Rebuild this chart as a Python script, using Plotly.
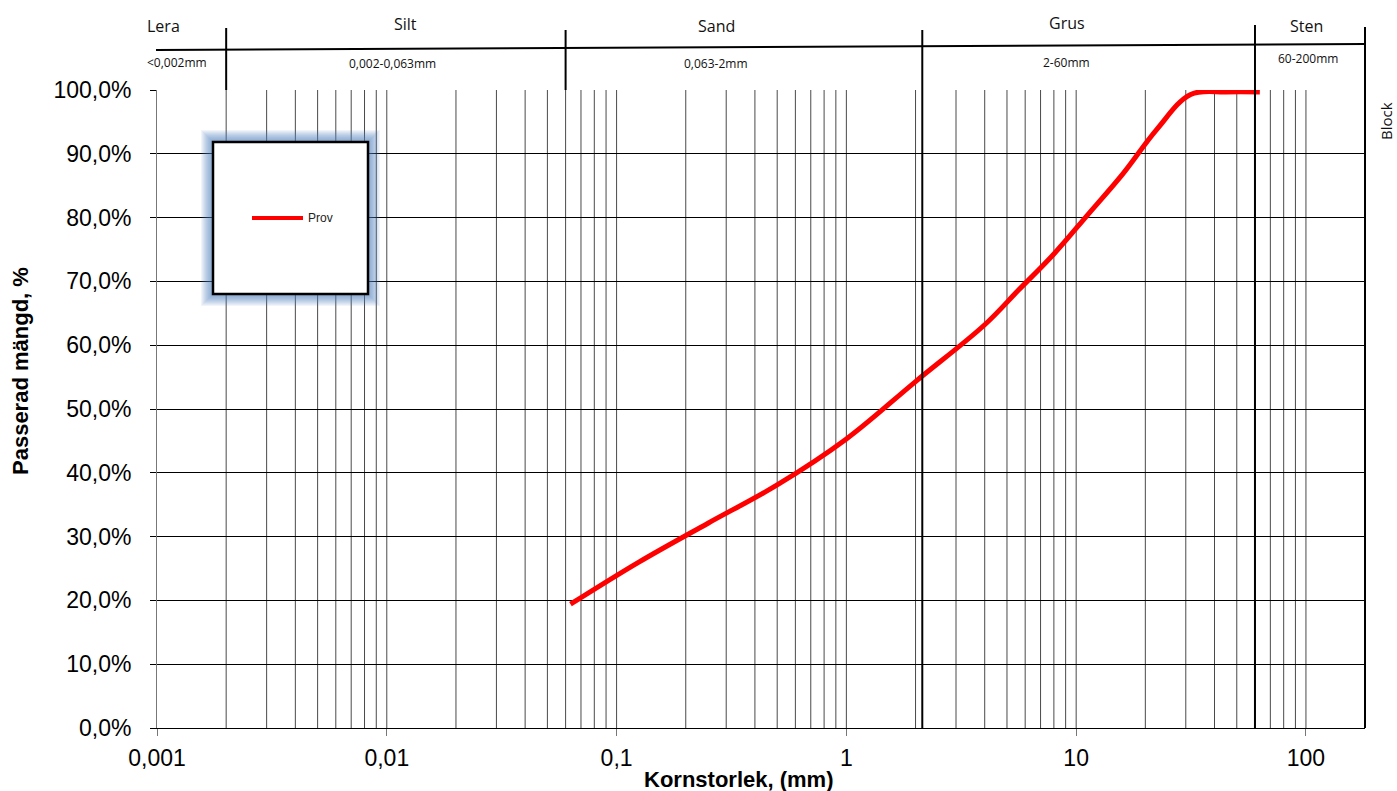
import math
import plotly.graph_objects as go

# Sieve analysis: grain size (mm) and cumulative passing (%)
sieve_mm = [0.063, 0.125, 0.25, 0.5, 1, 2, 4, 5.6, 8, 11.2, 16, 22.4, 31.5, 45, 63]
passing_pct = [19.4, 26.0, 32.1, 38.1, 45.3, 54.3, 63.2, 68.6, 74.3, 80.4, 86.9, 93.8, 99.3, 99.7, 99.7]
series_name = "Prov"

# Axis ticks
y_tick_vals = [0, 10, 20, 30, 40, 50, 60, 70, 80, 90, 100]
y_tick_text = ["0,0%", "10,0%", "20,0%", "30,0%", "40,0%", "50,0%",
               "60,0%", "70,0%", "80,0%", "90,0%", "100,0%"]
x_tick_vals = [0.001, 0.01, 0.1, 1, 10, 100]
x_tick_text = ["0,001", "0,01", "0,1", "1", "10", "100"]

# Soil fraction header
fraction_names = ["Lera", "Silt", "Sand", "Grus", "Sten"]
fraction_ranges = ["<0,002mm", "0,002-0,063mm", "0,063-2mm", "2-60mm", "60-200mm"]
fraction_bounds = [0.002, 0.06, 2.14, 60]

# ---- layout geometry (pixels) ----
W, H = 1397, 791
L, R, T, B = 157, 1365, 90, 728
X_LOG_MIN, X_LOG_MAX = -3.0, 2.257


def px_x(px):
    return (px - L) / (R - L)


def px_y(py):
    return (B - py) / (B - T)


fig = go.Figure()
fig.add_trace(go.Scatter(
    x=sieve_mm, y=passing_pct, name=series_name, mode="lines",
    line=dict(color="#ff0000", width=5, shape="spline", smoothing=1.0),
    showlegend=False, hoverinfo="x+y",
))

shapes = []

# vertical log grid (1..9 per decade)
for d in range(-3, 3):
    for m in range(1, 10):
        v = m * 10 ** d
        lv = math.log10(v)
        if lv <= X_LOG_MIN + 1e-9 or lv >= X_LOG_MAX:
            continue
        shapes.append(dict(type="line", xref="x", yref="paper", x0=v, x1=v, y0=0, y1=1,
                           line=dict(color="#4a4a4a", width=1), layer="between"))

# fraction separators in the header
header_tops = [28, 30, 30, 25]
for b, top in zip(fraction_bounds, header_tops):
    shapes.append(dict(type="line", xref="x", yref="paper", x0=b, x1=b,
                       y0=1, y1=px_y(top), line=dict(color="black", width=2)))
# separators running through the whole plot (2 mm and 60 mm)
for b in fraction_bounds[2:]:
    shapes.append(dict(type="line", xref="x", yref="paper", x0=b, x1=b,
                       y0=0, y1=1, line=dict(color="black", width=2)))
# right border
shapes.append(dict(type="line", xref="paper", yref="paper", x0=1, x1=1,
                   y0=0, y1=px_y(27), line=dict(color="black", width=2)))
# header rule
shapes.append(dict(type="line", xref="paper", yref="paper",
                   x0=px_x(156), y0=px_y(50), x1=px_x(1365), y1=px_y(44),
                   line=dict(color="black", width=2)))

# legend box with a soft blue glow
bx0, by0, bx1, by1 = 213, 142, 368, 294
for k in range(12, 0, -1):
    shapes.append(dict(type="rect", xref="paper", yref="paper",
                       x0=px_x(bx0 - k), x1=px_x(bx1 + k), y0=px_y(by1 + k), y1=px_y(by0 - k),
                       line=dict(width=0), fillcolor="rgba(79,129,189,0.08)"))
shapes.append(dict(type="rect", xref="paper", yref="paper",
                   x0=px_x(bx0), x1=px_x(bx1), y0=px_y(by1), y1=px_y(by0),
                   line=dict(color="black", width=2.5), fillcolor="white"))
shapes.append(dict(type="line", xref="paper", yref="paper",
                   x0=px_x(252), x1=px_x(303), y0=px_y(218), y1=px_y(218),
                   line=dict(color="#ff0000", width=4)))

annotations = []
header_font = "Open Sans, DejaVu Sans, sans-serif"
name_pos = [(163, 26), (405, 24), (716, 26), (1067, 23), (1306, 26)]
range_pos = [(177, 62), (392, 64), (716, 64), (1066, 62), (1308, 59)]
for txt, (x, y) in zip(fraction_names, name_pos):
    annotations.append(dict(text=txt, xref="paper", yref="paper", x=px_x(x), y=px_y(y),
                            showarrow=False, xanchor="center", yanchor="middle",
                            font=dict(family=header_font, size=16, color="#111")))
for txt, (x, y) in zip(fraction_ranges, range_pos):
    annotations.append(dict(text=txt, xref="paper", yref="paper", x=px_x(x), y=px_y(y),
                            showarrow=False, xanchor="center", yanchor="middle",
                            font=dict(family=header_font, size=12, color="#111")))
annotations.append(dict(text="Block", xref="paper", yref="paper", x=px_x(1386), y=px_y(121),
                        showarrow=False, textangle=-90, xanchor="center", yanchor="middle",
                        borderpad=0,
                        font=dict(family=header_font, size=15, color="#111")))
annotations.append(dict(text=series_name, xref="paper", yref="paper", x=px_x(306), y=px_y(218),
                        showarrow=False, xanchor="left", yanchor="middle",
                        font=dict(family="Liberation Sans, Arial", size=12, color="#222")))

axis_font = "Liberation Sans, Arial, sans-serif"
annotations.append(dict(text="<b>Passerad mängd, %</b>", xref="paper", yref="paper",
                        x=px_x(20), y=px_y(371), showarrow=False, textangle=-90,
                        xanchor="center", yanchor="middle",
                        font=dict(family=axis_font, size=22, color="black")))
annotations.append(dict(text="<b>Kornstorlek, (mm)</b>", xref="paper", yref="paper",
                        x=px_x(738), y=px_y(779), showarrow=False,
                        xanchor="center", yanchor="middle",
                        font=dict(family=axis_font, size=22, color="black")))

fig.update_layout(
    width=W, height=H,
    margin=dict(l=L, r=W - R, t=T, b=H - B, pad=0),
    paper_bgcolor="white", plot_bgcolor="white",
    shapes=shapes, annotations=annotations,
    xaxis=dict(type="log", range=[X_LOG_MIN, X_LOG_MAX], showgrid=False, zeroline=False,
               tickvals=x_tick_vals, ticktext=x_tick_text, ticks="outside", ticklen=7,
               tickcolor="#777", tickwidth=1, ticklabelstandoff=2,
               showline=True, linecolor="black", linewidth=1,
               tickfont=dict(family=axis_font, size=23, color="black")),
    yaxis=dict(range=[0, 100], showgrid=True, gridcolor="black", gridwidth=1, zeroline=False,
               tickvals=y_tick_vals, ticktext=y_tick_text, ticks="outside", ticklen=6,
               tickcolor="black", tickwidth=1, ticklabelstandoff=14,
               showline=True, linecolor="#777", linewidth=1,
               tickfont=dict(family=axis_font, size=23, color="black")),
    showlegend=False,
)

fig.write_html("out.html")
